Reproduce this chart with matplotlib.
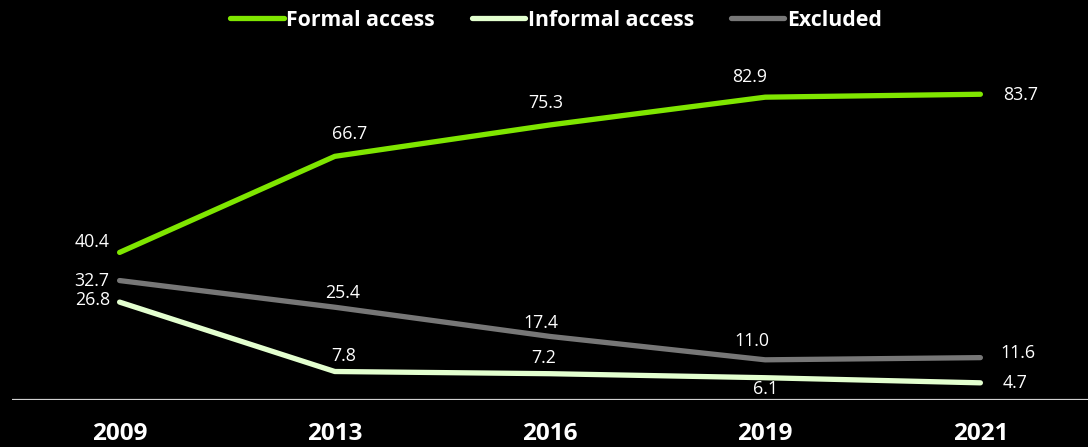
import matplotlib
matplotlib.use("Agg")
import matplotlib.pyplot as plt

years = ["2009", "2013", "2016", "2019", "2021"]
formal = [40.4, 66.7, 75.3, 82.9, 83.7]
informal = [26.8, 7.8, 7.2, 6.1, 4.7]
excluded = [32.7, 25.4, 17.4, 11.0, 11.6]

series = [
    ("Formal access", formal, "#7fe600",
     [(-27, 10), (15, 22), (-4, 22), (-16, 20), (40, -1)]),
    ("Informal access", informal, "#e3ffcf",
     [(-27, 2), (9, 16), (-6, 16), (0, -11), (35, 0)]),
    ("Excluded", excluded, "#777777",
     [(-28, 0), (8, 14), (-9, 13), (-13, 19), (38, 5)]),
]

plt.rcParams["font.family"] = ["Open Sans", "DejaVu Sans"]

fig = plt.figure(figsize=(10.88, 4.47), dpi=100, facecolor="black")
ax = fig.add_axes([12 / 1088, 47 / 447, 1 - 12 / 1088, 1 - 47 / 447])
ax.set_facecolor("black")

x = list(range(len(years)))
for name, vals, color, offs in series:
    ax.plot(x, vals, color=color, lw=3.8, solid_capstyle="round",
            solid_joinstyle="round", label=name, zorder=3)
    for xi, v, (dx, dy) in zip(x, vals, offs):
        ax.annotate(f"{v:.1f}", (xi, v), xytext=(dx, dy),
                    textcoords="offset pixels", ha="center", va="center",
                    color="white", fontsize=12.8)

ax.axhline(0, color="#d0d0d0", lw=1.6, zorder=2)

ax.set_xlim(-0.5, len(years) - 0.5)
ax.set_ylim(0, 109.5)
ax.set_xticks(x)
ax.set_xticklabels(years, fontsize=17.5, fontweight="bold", color="white")
ax.tick_params(axis="x", length=0, pad=16)
ax.set_yticks([])
for s in ax.spines.values():
    s.set_visible(False)

leg = fig.legend(loc="center", bbox_to_anchor=(556 / 1088, 1 - 20 / 447),
                 ncol=3, frameon=False, handlelength=2.5, handletextpad=0.12,
                 columnspacing=1.75, prop={"weight": "bold", "size": 15.3})
for t in leg.get_texts():
    t.set_color("white")
for h in leg.legend_handles:
    h.set_linewidth(3.8)
    h.set_solid_capstyle("round")

fig.savefig("out.png", dpi=100, facecolor="black")
